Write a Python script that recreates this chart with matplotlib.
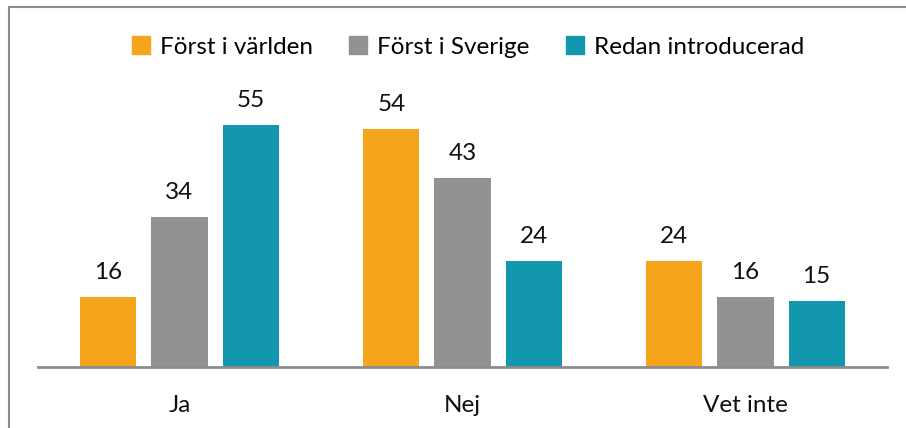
import numpy as np
import matplotlib.pyplot as plt
from matplotlib.lines import Line2D

plt.rcParams['font.family'] = ['Lato', 'DejaVu Sans']

categories = ['Ja', 'Nej', 'Vet inte']
series = ['Först i världen', 'Först i Sverige', 'Redan introducerad']
varlden = [16, 54, 24]
sverige = [34, 43, 16]
redan = [55, 24, 15]
colors = ['#F4A51C', '#929292', '#1397AE']

fs = 17.5
fig = plt.figure(figsize=(9.06, 4.28), dpi=100)
ax = fig.add_axes([38 / 906, 61 / 428, 849 / 906, 264 / 428])

x = np.arange(len(categories))
w = 0.198
step = 0.251
for i, (vals, c) in enumerate(zip([varlden, sverige, redan], colors)):
    pos = x + (i - 1) * step
    ax.bar(pos, vals, width=w, color=c, label=series[i])
    for p, v in zip(pos, vals):
        ax.text(p, v + 3.2, str(v), ha='center', va='bottom', fontsize=fs, color='#111111')

ax.set_xlim(-0.5, 2.5)
ax.set_ylim(0, 60)
ax.set_yticks([])
ax.set_xticks(x)
ax.set_xticklabels(categories, fontsize=fs, color='#111111')
ax.tick_params(axis='x', length=0, pad=20)
for s in ['top', 'right', 'left']:
    ax.spines[s].set_visible(False)
ax.spines['bottom'].set_color('#8c8c8c')
ax.spines['bottom'].set_linewidth(2)

handles = [plt.Rectangle((0, 0), 1, 1, color=c) for c in colors]
fig.legend(handles, series, loc='center', bbox_to_anchor=(468 / 906, 1 - 47 / 428),
           ncol=3, frameon=False, fontsize=fs, handlelength=0.75, handleheight=0.75,
           handletextpad=0.4, columnspacing=1.5)

# chart border (left and top edges)
fig.add_artist(Line2D([9 / 906, 9 / 906], [0, 1 - 7 / 428], color='#8c8c8c', lw=1.5))
fig.add_artist(Line2D([9 / 906, 1], [1 - 7 / 428, 1 - 7 / 428], color='#8c8c8c', lw=1.5))

fig.savefig('out.png', dpi=100)
